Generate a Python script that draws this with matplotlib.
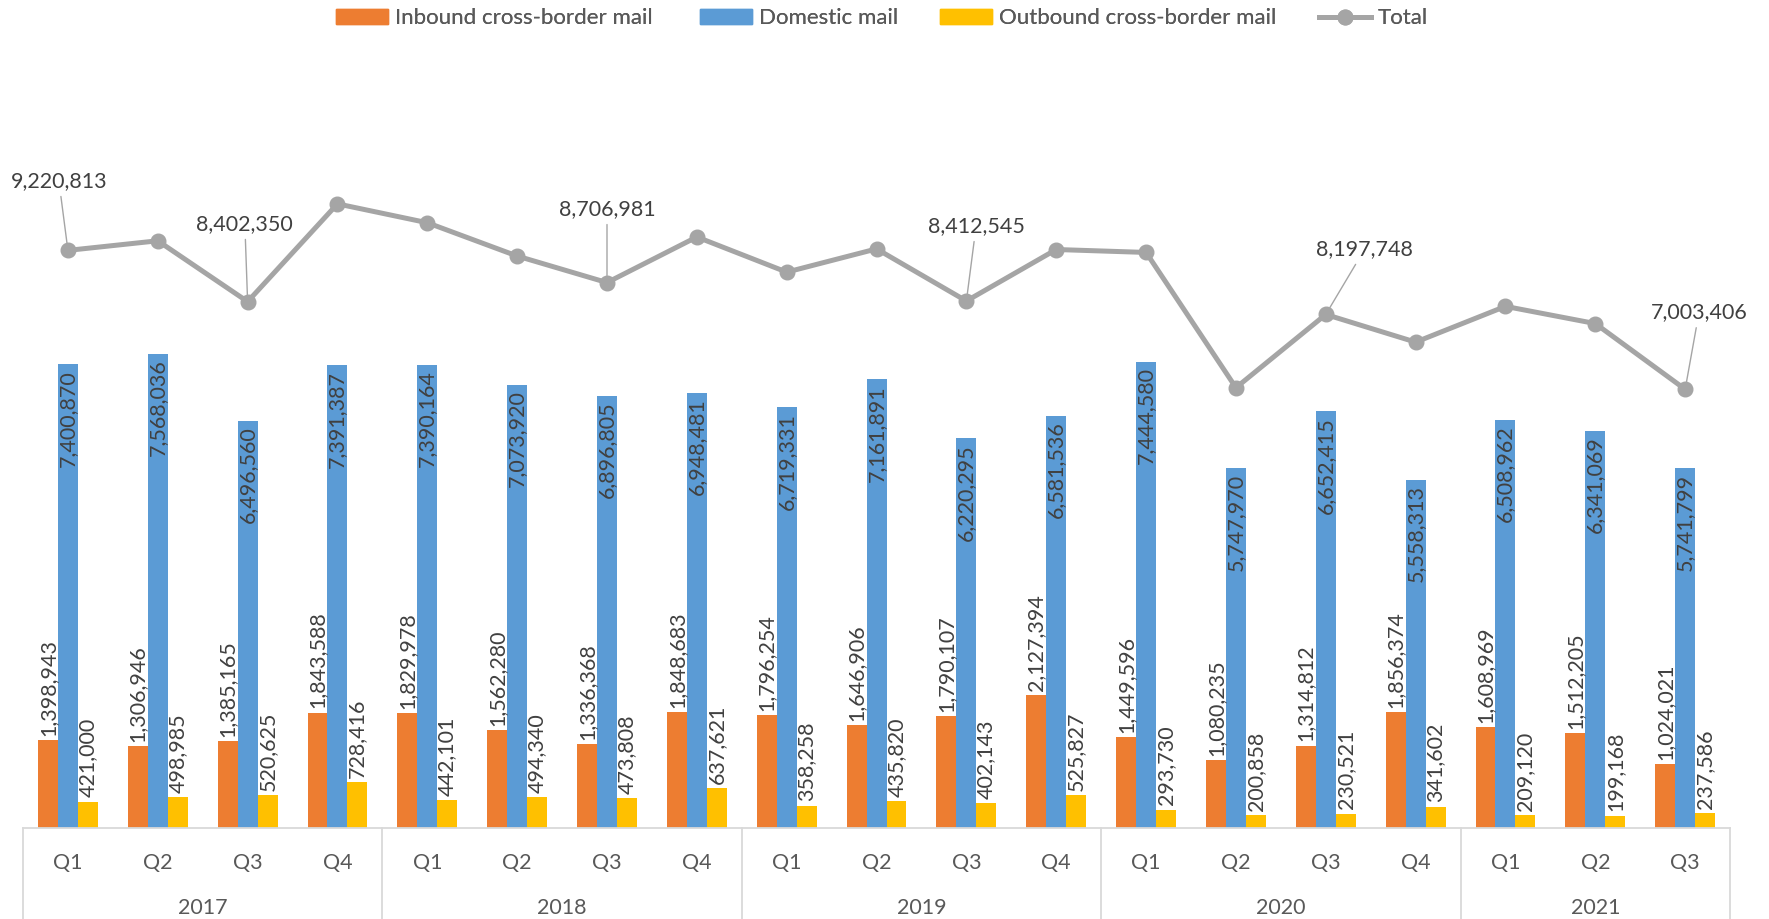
import matplotlib.pyplot as plt
import matplotlib.transforms as mtransforms
from matplotlib.lines import Line2D
from matplotlib.patches import Patch

plt.rcParams["font.family"] = ["Lato", "DejaVu Sans"]

quarters = ["Q1", "Q2", "Q3", "Q4", "Q1", "Q2", "Q3", "Q4", "Q1", "Q2",
            "Q3", "Q4", "Q1", "Q2", "Q3", "Q4", "Q1", "Q2", "Q3"]
years = ["2017", "2018", "2019", "2020", "2021"]
year_spans = [(0, 3), (4, 7), (8, 11), (12, 15), (16, 18)]

inbound = [1398943, 1306946, 1385165, 1843588, 1829978, 1562280, 1336368,
           1848683, 1796254, 1646906, 1790107, 2127394, 1449596, 1080235,
           1314812, 1856374, 1608969, 1512205, 1024021]
domestic = [7400870, 7568036, 6496560, 7391387, 7390164, 7073920, 6896805,
            6948481, 6719331, 7161891, 6220295, 6581536, 7444580, 5747970,
            6652415, 5558313, 6508962, 6341069, 5741799]
outbound = [421000, 498985, 520625, 728416, 442101, 494340, 473808, 637621,
            358258, 435820, 402143, 525827, 293730, 200858, 230521, 341602,
            209120, 199168, 237586]
total = [9220813, 9373967, 8402350, 9963391, 9662243, 9130540, 8706981,
         9434785, 8873843, 9244617, 8412545, 9234757, 9187906, 7029063,
         8197748, 7756289, 8327051, 8052442, 7003406]

# which total points carry a label, and where the label sits (points offset)
total_label_offsets = {0: (-6.5, 50), 2: (-2, 56), 6: (0, 53), 10: (7, 54),
                       14: (28, 47), 18: (10, 55.5)}

C_IN = "#ED7D31"
C_DOM = "#5B9BD5"
C_OUT = "#FFC000"
C_TOT = "#A5A5A5"
TXT = "#404040"
AXC = "#595959"

fig = plt.figure(figsize=(17.69, 9.19), dpi=100)
ax = fig.add_axes([0.013, 0.099, 0.965, 0.818])

x = list(range(len(quarters)))
w = 0.222
b_in = ax.bar([i - w for i in x], inbound, w, color=C_IN, zorder=2)
b_dom = ax.bar(x, domestic, w, color=C_DOM, zorder=2)
b_out = ax.bar([i + w for i in x], outbound, w, color=C_OUT, zorder=2)

fs = 15.5
for bars, vals, inside in [(b_in, inbound, False), (b_dom, domestic, True),
                           (b_out, outbound, False)]:
    for r, v in zip(bars, vals):
        cx = r.get_x() + r.get_width() / 2
        ax.annotate(f"{v:,}", (cx, v), xytext=(0, -4 if inside else 3),
                    textcoords="offset points", rotation=90, ha="center",
                    va="top" if inside else "bottom", fontsize=fs,
                    color=TXT, zorder=4)

ax.plot(x, total, color=C_TOT, lw=3.6, marker="o", ms=10.5, zorder=3)
for i, (dx, dy) in total_label_offsets.items():
    ax.annotate(f"{total[i]:,}", (i, total[i]), xytext=(dx, dy),
                textcoords="offset points", ha="center", va="center",
                fontsize=fs, color=TXT, zorder=5,
                arrowprops=dict(arrowstyle="-", color=C_TOT, lw=1,
                                shrinkA=2, shrinkB=5))

ax.set_xlim(-0.5, len(quarters) - 0.5)
ax.set_ylim(0, 12000000)
ax.set_yticks([])
ax.set_xticks([])
for s in ["top", "right", "left"]:
    ax.spines[s].set_visible(False)
ax.spines["bottom"].set_color("#D9D9D9")
ax.spines["bottom"].set_linewidth(1.3)

trans = mtransforms.blended_transform_factory(ax.transData, ax.transAxes)
for i, q in enumerate(quarters):
    ax.text(i, -0.046, q, transform=trans, ha="center", va="center",
            fontsize=fs, color=AXC)
for yr, (a, b) in zip(years, year_spans):
    ax.text((a + b) / 2, -0.106, yr, transform=trans, ha="center",
            va="center", fontsize=fs, color=AXC)
for edge in [-0.5, 3.5, 7.5, 11.5, 15.5, 18.5]:
    ax.plot([edge, edge], [0, -0.13], transform=trans, color="#D9D9D9",
            lw=1.3, clip_on=False)

# legend entries placed one by one, like the spreadsheet legend
handles = [Patch(color=C_IN), Patch(color=C_DOM), Patch(color=C_OUT),
           Line2D([], [], color=C_TOT, lw=3.6, marker="o", ms=10.5)]
labels = ["Inbound cross-border mail", "Domestic mail",
          "Outbound cross-border mail", "Total"]
starts = [0.190, 0.3957, 0.5314, 0.7456]
for h, lab, x0 in zip(handles, labels, starts):
    leg = fig.legend([h], [lab], loc="center left",
                     bbox_to_anchor=(x0, 0.980), frameon=False,
                     fontsize=16, labelcolor=AXC, borderpad=0,
                     borderaxespad=0, handlelength=2.35, handleheight=0.6,
                     handletextpad=0.3)
    fig.add_artist(leg)

fig.savefig("out.png", dpi=100)
